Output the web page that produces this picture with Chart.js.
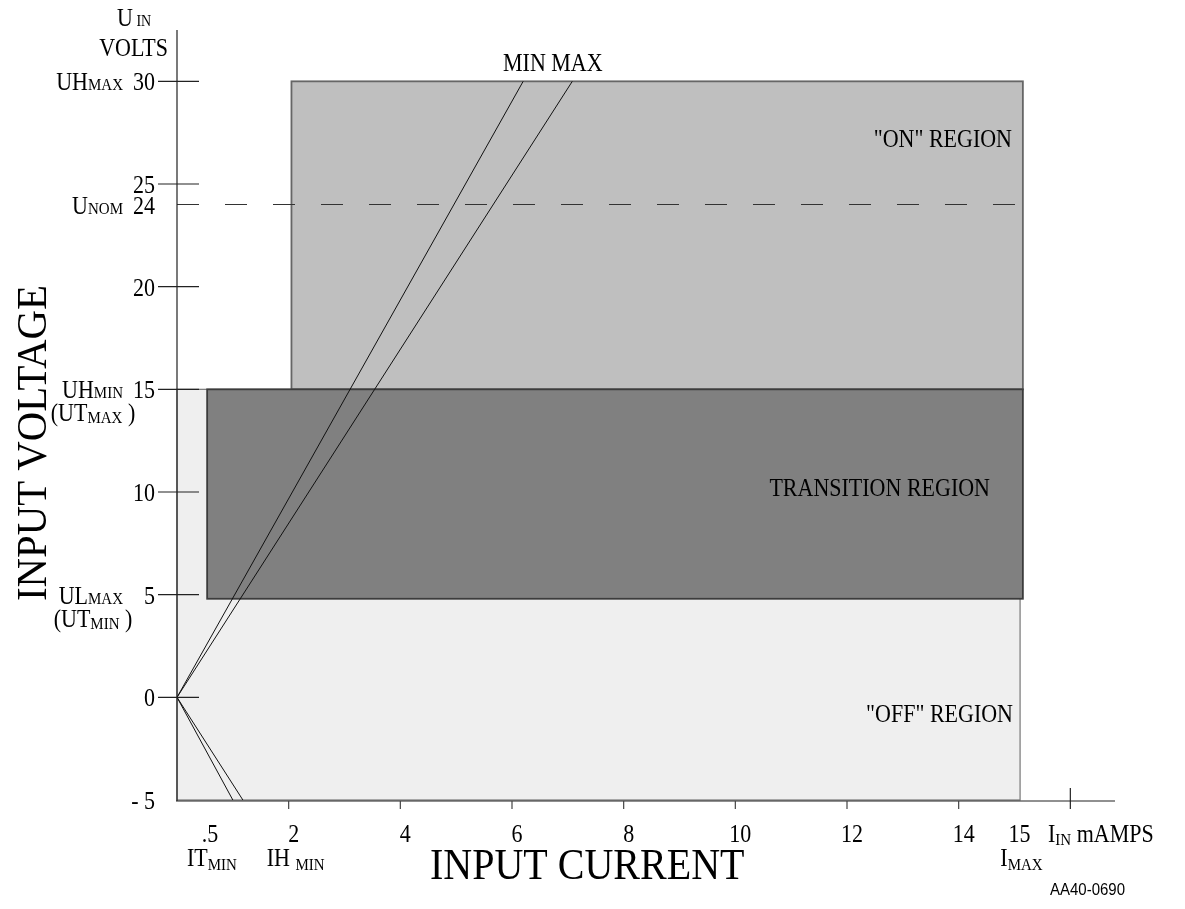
<!DOCTYPE html>
<html>
<head>
<meta charset="utf-8">
<script src="https://cdn.jsdelivr.net/npm/chart.js@4.4.1/dist/chart.umd.min.js"></script>
<style>
  html, body { margin: 0; padding: 0; background: #fff; }
</style>
</head>
<body>
<canvas id="inputGraph" width="1185" height="909"></canvas>
<script>
// regions (mA / V)
const regionNames = ['"OFF" REGION', '"ON" REGION', 'TRANSITION REGION'];
const regionFrom = [0, 2.05, 0.54];
const regionTo = [15.1, 15.15, 15.15];
const regionLow = [-5, 15, 4.8];
const regionHigh = [15, 30, 15];

// switching curves
const minCurrent = [1.0, 0, 6.2];
const minVoltage = [-5, 0, 30];
const maxCurrent = [1.18, 0, 7.08];
const maxVoltage = [-5, 0, 30];

// nominal voltage
const nomCurrent = [0, 15.15];
const nomVoltage = [24, 24];

// y axis
const yTicks = [30, 25, 20, 15, 10, 5, 0];
const yLabelValues = [30, 25, 24, 20, 15, 10, 5, 0, -5];
const yLabels = ['30', '25', '24', '20', '15', '10', '5', '0', '- 5'];
const yNames = ['UH_MAX', '', 'U_NOM', '', 'UH_MIN', '', 'UL_MAX', '', ''];
const yNotes = ['', '', '', '', '(UT_MAX_ )', '', '(UT_MIN_ )', '', ''];

// x axis
const xTicks = [2, 4, 6, 8, 10, 12, 14];
const xLabelValues = [0.5, 2, 4, 6, 8, 10, 12, 14, 15];
const xLabels = ['.5', '2', '4', '6', '8', '10', '12', '14', '15'];
const xNames = ['IT_MIN', 'IH _MIN', '', '', '', '', '', '', 'I_MAX'];

const serif = '"Liberation Serif", "Times New Roman", serif';
const regionFill = ['#efefef', '#bfbfbf', '#808080'];
const regionEdge = ['#777777', '#666666', '#3c3c3c'];
const stretch = 1.12; // glyphs in the scan are a bit tall

function pts(xs, ys) {
  return xs.map((x, i) => ({ x: x, y: ys[i] }));
}

function tallText(ctx, t, x, y) {
  ctx.save();
  ctx.translate(x, y);
  ctx.scale(1, stretch);
  ctx.fillText(t, 0, 0);
  ctx.restore();
}

// text with big/small parts split by "_"
function drawRuns(ctx, str, x, y, align, big, small, dy) {
  const parts = str.split('_');
  let w = 0;
  parts.forEach((p, i) => {
    ctx.font = (i % 2 ? small : big) + 'px ' + serif;
    w += ctx.measureText(p).width;
  });
  let cx = align === 'right' ? x - w : align === 'center' ? x - w / 2 : x;
  parts.forEach((p, i) => {
    ctx.font = (i % 2 ? small : big) + 'px ' + serif;
    tallText(ctx, p, cx, y + (i % 2 ? dy : 0));
    cx += ctx.measureText(p).width;
  });
}

const regionsPlugin = {
  id: 'regions',
  beforeDatasetsDraw(chart) {
    const { ctx, scales: { x, y } } = chart;
    ctx.save();
    regionNames.forEach((name, i) => {
      const x0 = x.getPixelForValue(regionFrom[i]);
      const x1 = x.getPixelForValue(regionTo[i]);
      const y0 = y.getPixelForValue(regionHigh[i]);
      const y1 = y.getPixelForValue(regionLow[i]);
      ctx.fillStyle = regionFill[i];
      ctx.fillRect(x0, y0, x1 - x0, y1 - y0);
      ctx.strokeStyle = regionEdge[i];
      ctx.lineWidth = i === 0 ? 1.2 : 1.8;
      ctx.strokeRect(x0, y0, x1 - x0, y1 - y0);
    });
    ctx.restore();
  }
};

const axesPlugin = {
  id: 'axes',
  afterDraw(chart) {
    const { ctx, chartArea, scales: { x, y } } = chart;
    const x0 = x.getPixelForValue(0);
    const yb = chartArea.bottom + 1;
    ctx.save();
    ctx.textAlign = 'left';
    ctx.textBaseline = 'alphabetic';

    // axis lines
    ctx.strokeStyle = '#222';
    ctx.lineWidth = 1.2;
    ctx.beginPath();
    ctx.moveTo(x0, chartArea.top);
    ctx.lineTo(x0, yb);
    ctx.moveTo(x0 - 1, yb);
    ctx.lineTo(chartArea.right, yb);
    ctx.stroke();

    // y ticks
    yTicks.forEach(v => {
      const py = y.getPixelForValue(v);
      ctx.beginPath();
      ctx.moveTo(x0 - 19, py);
      ctx.lineTo(x0 + 22, py);
      ctx.stroke();
    });

    // x ticks
    ctx.strokeStyle = '#444';
    xTicks.forEach(v => {
      const px = x.getPixelForValue(v);
      ctx.beginPath();
      ctx.moveTo(px, yb);
      ctx.lineTo(px, yb + 8);
      ctx.stroke();
    });
    const p16 = x.getPixelForValue(16);
    ctx.strokeStyle = '#222';
    ctx.beginPath();
    ctx.moveTo(p16, yb - 13);
    ctx.lineTo(p16, yb + 8);
    ctx.stroke();

    ctx.fillStyle = '#000';

    // y labels
    yLabelValues.forEach((v, i) => {
      const py = y.getPixelForValue(v) + 9;
      drawRuns(ctx, yLabels[i], 155, py, 'right', 22, 15, 0);
      if (yNames[i]) drawRuns(ctx, yNames[i], 123, py, 'right', 22, 15, 0);
      if (yNotes[i]) drawRuns(ctx, yNotes[i], 93, py + 23, 'center', 22, 15, 2);
    });
    drawRuns(ctx, 'U_ IN', 117, 26, 'left', 22, 14, 0);
    drawRuns(ctx, 'VOLTS', 168, 56, 'right', 22, 15, 0);

    // x labels
    xLabelValues.forEach((v, i) => {
      const px = x.getPixelForValue(v);
      drawRuns(ctx, xLabels[i], px + 5, 842, 'center', 22, 15, 0);
      if (xNames[i]) drawRuns(ctx, xNames[i], px + 7, 866, 'center', 22, 15, 4);
    });
    drawRuns(ctx, 'I_IN_ mAMPS', 1048, 842, 'left', 22, 15, 3);

    // titles
    ctx.font = '40px ' + serif;
    tallText(ctx, 'INPUT CURRENT', 430, 879);
    ctx.save();
    ctx.translate(46, 443);
    ctx.rotate(-Math.PI / 2);
    ctx.scale(1.02, 1.08);
    ctx.textAlign = 'center';
    ctx.fillText('INPUT VOLTAGE', 0, 0);
    ctx.restore();

    ctx.font = '15px "Liberation Sans", Arial, sans-serif';
    tallText(ctx, 'AA40-0690', 1050, 895);

    // region captions
    ctx.font = '22px ' + serif;
    tallText(ctx, 'MIN MAX', 503, 71);
    ctx.textAlign = 'right';
    tallText(ctx, regionNames[1], 1012, 147);
    tallText(ctx, regionNames[2], 990, 496);
    tallText(ctx, regionNames[0], 1013, 722);
    ctx.restore();
  }
};

const ctxInput = document.getElementById('inputGraph');

new Chart(ctxInput, {
  type: 'scatter',
  data: {
    datasets: [
      {
        label: 'MIN',
        data: pts(minCurrent, minVoltage),
        showLine: true,
        borderColor: '#111',
        borderWidth: 1,
        pointRadius: 0
      },
      {
        label: 'MAX',
        data: pts(maxCurrent, maxVoltage),
        showLine: true,
        borderColor: '#111',
        borderWidth: 1,
        pointRadius: 0
      },
      {
        label: 'UNOM',
        data: pts(nomCurrent, nomVoltage),
        showLine: true,
        borderColor: '#333',
        borderWidth: 1.1,
        borderDash: [22, 26],
        pointRadius: 0
      }
    ]
  },
  options: {
    responsive: false,
    animation: false,
    layout: { padding: { left: 177, right: 70, top: 30, bottom: 109 } },
    plugins: { legend: { display: false }, tooltip: { enabled: false } },
    scales: {
      x: { type: 'linear', min: 0, max: 16.8, display: false },
      y: { type: 'linear', min: -5, max: 32.5, display: false }
    }
  },
  plugins: [regionsPlugin, axesPlugin]
});
</script>
</body>
</html>
